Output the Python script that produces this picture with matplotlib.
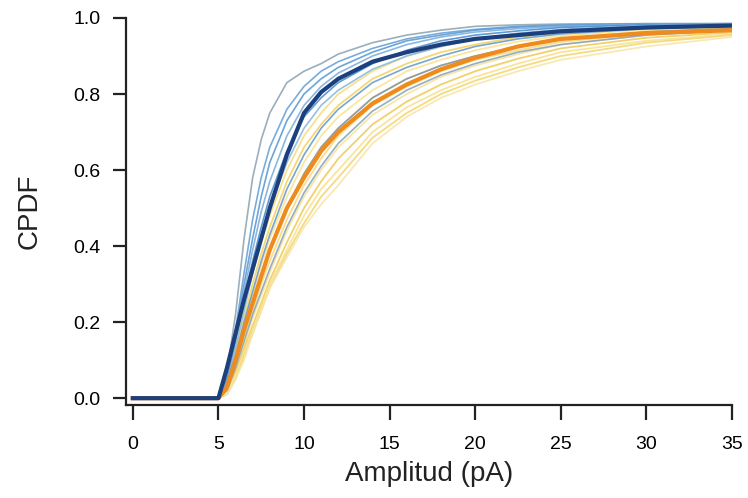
import matplotlib
matplotlib.use("Agg")
import matplotlib.pyplot as plt

plt.rcParams['font.family'] = ['Liberation Sans', 'DejaVu Sans']

# amplitude grid (pA)
amp = [0, 5, 5.5, 6, 6.5, 7, 7.5, 8, 9, 10, 11, 12, 14, 16, 18, 20, 22.5, 25, 30, 35]

# thin blue traces (one cell each)
blue_traces = [
    [0, 0, 0.07, 0.22, 0.42, 0.58, 0.68, 0.75, 0.83, 0.86, 0.88, 0.905, 0.935, 0.955, 0.968, 0.978, 0.982, 0.984, 0.985, 0.985],
    [0, 0, 0.06, 0.18, 0.33, 0.47, 0.58, 0.66, 0.76, 0.82, 0.86, 0.885, 0.92, 0.945, 0.96, 0.97, 0.978, 0.982, 0.985, 0.985],
    [0, 0, 0.06, 0.17, 0.30, 0.42, 0.53, 0.62, 0.73, 0.80, 0.84, 0.87, 0.91, 0.94, 0.955, 0.968, 0.976, 0.98, 0.984, 0.985],
    [0, 0, 0.05, 0.16, 0.28, 0.39, 0.49, 0.57, 0.69, 0.77, 0.82, 0.855, 0.90, 0.93, 0.95, 0.963, 0.972, 0.978, 0.983, 0.985],
    [0, 0, 0.05, 0.15, 0.26, 0.36, 0.45, 0.53, 0.65, 0.74, 0.79, 0.83, 0.88, 0.915, 0.94, 0.955, 0.966, 0.975, 0.982, 0.984],
    [0, 0, 0.04, 0.13, 0.23, 0.33, 0.42, 0.50, 0.62, 0.71, 0.77, 0.81, 0.865, 0.90, 0.925, 0.945, 0.96, 0.97, 0.98, 0.983],
    [0, 0, 0.04, 0.11, 0.20, 0.28, 0.36, 0.43, 0.55, 0.64, 0.71, 0.76, 0.83, 0.87, 0.90, 0.925, 0.945, 0.958, 0.972, 0.978],
    [0, 0, 0.03, 0.10, 0.18, 0.25, 0.32, 0.39, 0.50, 0.59, 0.66, 0.71, 0.79, 0.84, 0.875, 0.90, 0.925, 0.943, 0.963, 0.972],
    [0, 0, 0.02, 0.08, 0.15, 0.22, 0.28, 0.34, 0.45, 0.54, 0.61, 0.67, 0.755, 0.81, 0.85, 0.88, 0.91, 0.93, 0.955, 0.968],
]
blue_colors = ['#8fa6b4', '#6aa3d8', '#5b9bd5', '#7fb0dc', '#4f8fcf', '#8ab8e0',
               '#6b9cc8', '#7a9ab8', '#8aa4bc']

# thin yellow traces
yellow_traces = [
    [0, 0, 0.05, 0.14, 0.24, 0.33, 0.41, 0.48, 0.60, 0.69, 0.75, 0.80, 0.86, 0.90, 0.925, 0.945, 0.958, 0.968, 0.978, 0.982],
    [0, 0, 0.04, 0.12, 0.21, 0.30, 0.38, 0.45, 0.57, 0.66, 0.72, 0.77, 0.84, 0.88, 0.91, 0.93, 0.95, 0.962, 0.974, 0.98],
    [0, 0, 0.04, 0.11, 0.19, 0.27, 0.35, 0.42, 0.53, 0.62, 0.69, 0.74, 0.81, 0.86, 0.89, 0.915, 0.938, 0.953, 0.97, 0.977],
    [0, 0, 0.03, 0.10, 0.18, 0.25, 0.32, 0.39, 0.50, 0.59, 0.66, 0.71, 0.79, 0.84, 0.875, 0.90, 0.925, 0.945, 0.965, 0.974],
    [0, 0, 0.03, 0.09, 0.16, 0.23, 0.30, 0.36, 0.47, 0.56, 0.63, 0.69, 0.77, 0.82, 0.86, 0.89, 0.915, 0.937, 0.96, 0.97],
    [0, 0, 0.02, 0.08, 0.14, 0.21, 0.27, 0.33, 0.44, 0.53, 0.60, 0.66, 0.745, 0.80, 0.845, 0.875, 0.905, 0.93, 0.955, 0.966],
    [0, 0, 0.02, 0.07, 0.13, 0.19, 0.25, 0.31, 0.41, 0.50, 0.57, 0.63, 0.72, 0.78, 0.825, 0.86, 0.893, 0.92, 0.948, 0.962],
    [0, 0, 0.01, 0.06, 0.12, 0.18, 0.24, 0.30, 0.39, 0.48, 0.55, 0.60, 0.70, 0.765, 0.81, 0.845, 0.88, 0.91, 0.94, 0.958],
    [0, 0, 0.01, 0.05, 0.11, 0.17, 0.23, 0.29, 0.38, 0.46, 0.53, 0.58, 0.685, 0.75, 0.80, 0.835, 0.87, 0.90, 0.935, 0.955],
    [0, 0, 0.01, 0.05, 0.10, 0.17, 0.23, 0.29, 0.37, 0.45, 0.51, 0.56, 0.67, 0.74, 0.79, 0.825, 0.86, 0.89, 0.925, 0.95],
]
yellow_colors = ['#f6dc7a', '#f3d25e', '#f8e28e', '#f2cc55', '#f7d977', '#f5e29a',
                 '#f0c850', '#f8e08a', '#f3d46a', '#f7e5a5']

# averages
blue_mean = [0, 0, 0.08, 0.17, 0.26, 0.34, 0.42, 0.50, 0.64, 0.75, 0.805, 0.84, 0.885, 0.91, 0.93, 0.945, 0.955, 0.965, 0.975, 0.98]
orange_mean = [0, 0, 0.03, 0.10, 0.18, 0.25, 0.32, 0.39, 0.50, 0.58, 0.65, 0.70, 0.775, 0.825, 0.865, 0.895, 0.925, 0.945, 0.96, 0.968]

fig = plt.figure(figsize=(7.48, 4.98), dpi=100)
ax = fig.add_axes([0.1684, 0.1867, 0.8102, 0.7772])

for tr, c in zip(yellow_traces, yellow_colors):
    ax.plot(amp, tr, color=c, lw=1.3, alpha=0.85)
for tr, c in zip(blue_traces, blue_colors):
    ax.plot(amp, tr, color=c, lw=1.2, alpha=0.9)
ax.plot(amp, orange_mean, color='#ef8a1e', lw=3)
ax.plot(amp, blue_mean, color='#1c3f7e', lw=3)

ax.set_xlim(-0.4, 35)
ax.set_ylim(-0.018, 1.0)
ax.set_xticks([0, 5, 10, 15, 20, 25, 30, 35])
ax.set_yticks([0.0, 0.2, 0.4, 0.6, 0.8, 1.0])
ax.set_yticklabels(['0.0', '0.2', '0.4', '0.6', '0.8', '1.0'])

for s in ['top', 'right']:
    ax.spines[s].set_visible(False)
for s in ['left', 'bottom']:
    ax.spines[s].set_linewidth(1.6)
    ax.spines[s].set_color('#222222')

ax.tick_params(axis='x', length=11, width=1.6, pad=11, labelsize=14, color='#222222')
ax.tick_params(axis='y', length=9.5, width=1.6, pad=9, labelsize=14, color='#222222')

ax.set_xlabel('Amplitud (pA)', fontsize=20, labelpad=6, color='#222222')
ax.set_ylabel('CPDF', fontsize=20, labelpad=22, color='#222222')

fig.savefig('out.png', dpi=100)
